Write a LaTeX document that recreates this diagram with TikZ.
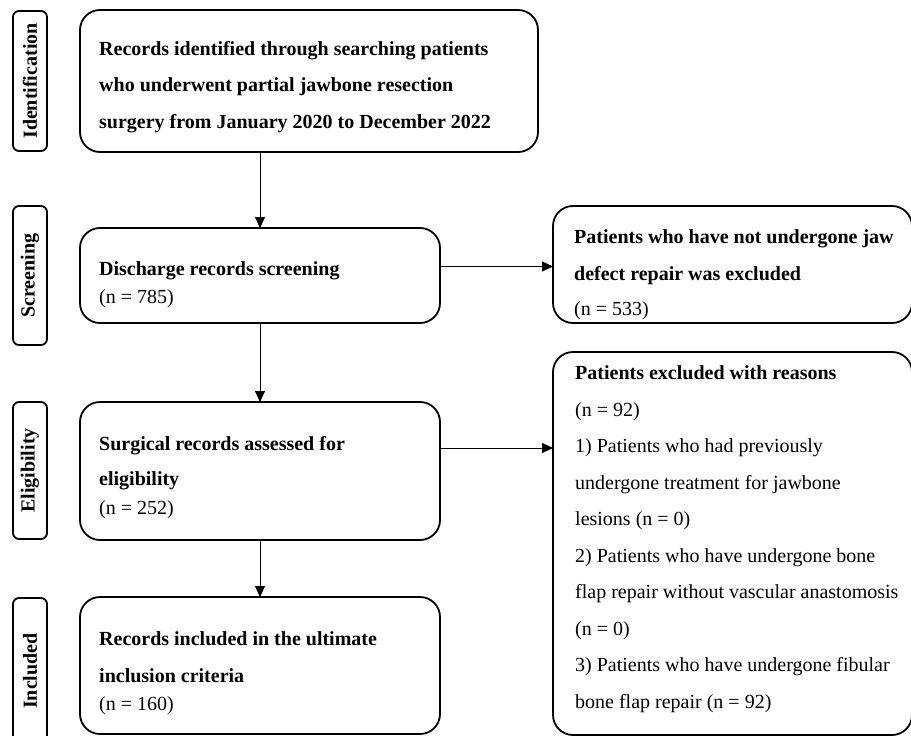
\documentclass[tikz,border=0pt]{standalone}
\usepackage{fontspec}
\setmainfont{Liberation Serif}
\usetikzlibrary{arrows.meta}
\begin{document}
\begin{tikzpicture}[x=1pt,y=-1pt,
  box/.style={draw, line width=1.8pt, rounded corners=20pt, inner sep=0pt, outer sep=0pt},
  lab/.style={draw, line width=1.8pt, rounded corners=6pt, rotate=90, inner sep=0pt, outer sep=0pt,
    minimum height=34pt, font=\fontsize{20}{24}\selectfont\bfseries},
  txt/.style={anchor=base west, align=left, inner sep=0pt, font=\fontsize{20}{36.5}\selectfont},
  arr/.style={line width=0.9pt, -{Triangle[length=11pt,width=10pt]}}]
\useasboundingbox (0,0) rectangle (911,736);

% stage labels
\node[lab, minimum width=140pt] (lI) at (30,81) {Identification};
\node[lab, minimum width=139pt] (lS) at (30,275.5) {Screening};
\node[lab, minimum width=137pt] (lE) at (30,470.5) {Eligibility};
\node[lab, minimum width=146pt] (lN) at (30,671) {Included};

% boxes
\node[box, minimum width=458pt, minimum height=142pt] (b1) at (309,81) {};
\node[box, minimum width=360pt, minimum height=95pt] (b2) at (260,275.5) {};
\node[box, minimum width=360pt, minimum height=138pt] (b3) at (260,471) {};
\node[box, minimum width=360pt, minimum height=137pt] (b4) at (260,665.5) {};
\node[box, minimum width=359pt, minimum height=117pt] (bA) at (732.5,264.5) {};
\node[box, minimum width=359pt, minimum height=383pt] (bB) at (732.5,543.5) {};

% texts (anchored at the baseline of their last line)
\node[txt] (t1) at (99,128) {\textbf{Records identified through searching patients}\\
  \textbf{who underwent partial jawbone resection}\\
  \textbf{surgery from January 2020 to December 2022}};
\node[txt] (t2) at (99,303) {\textbf{Discharge records screening}\\[-8.5pt](n = 785)};
\node[txt] (t3) at (99,514) {\textbf{Surgical records assessed for}\\[-1.5pt]\textbf{eligibility}\\[-7.5pt](n = 252)};
\node[txt] (t4) at (99,710) {\textbf{Records included in the ultimate}\\ \textbf{inclusion criteria}\\[-8.5pt](n = 160)};
\node[txt] (tA) at (574,315) {\textbf{Patients who have not undergone jaw}\\ \textbf{defect repair was excluded}\\[-1.5pt](n = 533)};
\node[txt] (tB) at (575,708) {\textbf{Patients excluded with reasons}\\
  (n = 92)\\
  1) Patients who had previously\\
  undergone treatment for jawbone\\
  lesions (n = 0)\\
  2) Patients who have undergone bone\\
  flap repair without vascular anastomosis\\
  (n = 0)\\
  3) Patients who have undergone fibular\\
  bone flap repair (n = 92)};

% connectors
\draw[arr] (b1.south -| b2.north) -- (b2.north);
\draw[arr] (b2.south) -- (b3.north);
\draw[arr] (b3.south) -- (b4.north);
\draw[arr] ([yshift=9pt]b2.east) -- ([yshift=9pt]b2.east -| bA.west);
\draw[arr] ([yshift=23pt]b3.east) -- ([yshift=23pt]b3.east -| bB.west);
\end{tikzpicture}
\end{document}
